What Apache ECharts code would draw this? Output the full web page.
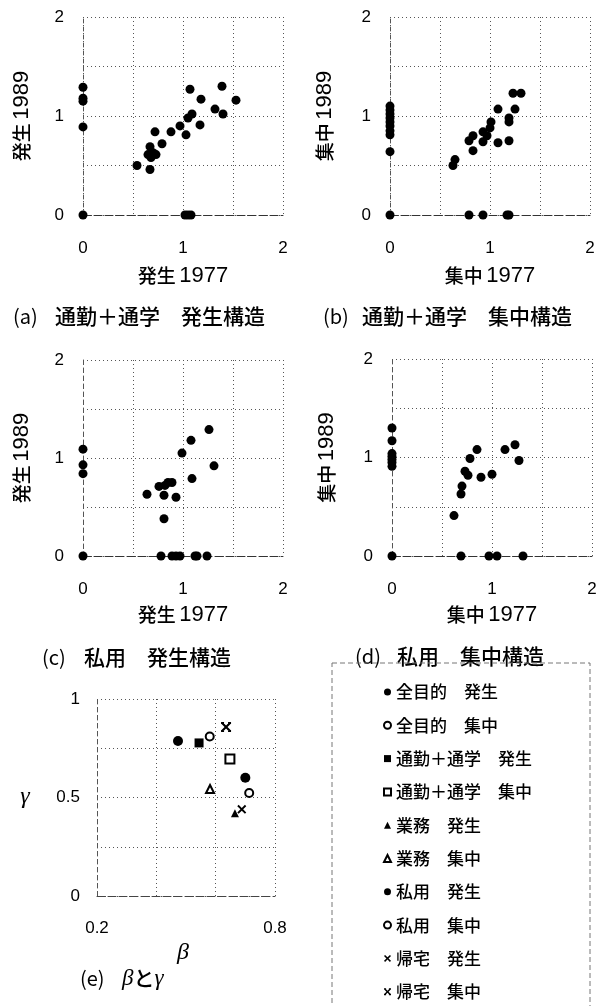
<!DOCTYPE html>
<html><head><meta charset="utf-8">
<script src="https://cdn.jsdelivr.net/npm/echarts@6/dist/echarts.min.js"></script>
<style>html,body{margin:0;padding:0;background:#fff}#c{width:604px;height:1006px}</style>
</head><body><div id="c"></div>
<script>
// ---- data ----
// (a) 通勤＋通学 発生構造 : [発生1977, 発生1989]
const panelA = [
  [0,1.29],[0,1.18],[0,1.15],[0,0.89],
  [0,0],[1.02,0],[1.05,0],[1.08,0],
  [0.54,0.50],[0.67,0.46],[0.67,0.69],[0.65,0.61],[0.70,0.63],[0.73,0.61],[0.68,0.58],
  [0.72,0.84],[0.79,0.72],[0.88,0.84],[0.97,0.90],[1.03,0.81],[1.05,0.98],[1.09,1.02],
  [1.07,1.27],[1.17,0.91],[1.18,1.17],[1.32,1.07],[1.40,1.02],[1.39,1.30],[1.53,1.16]
];
// (b) 通勤＋通学 集中構造 : [集中1977, 集中1989]
const panelB = [
  [0,1.10],[0,1.06],[0,1.02],[0,0.98],[0,0.94],[0,0.90],[0,0.85],[0,0.81],[0,0.64],
  [0,0],[0.79,0],[0.93,0],[1.17,0],[1.19,0],
  [0.63,0.50],[0.65,0.56],[0.83,0.65],[0.79,0.75],[0.83,0.80],[0.93,0.74],[0.93,0.84],
  [0.97,0.80],[1.00,0.88],[1.01,0.94],[1.08,1.07],[1.08,0.73],[1.19,0.75],[1.19,0.98],
  [1.19,0.94],[1.25,1.07],[1.23,1.23],[1.31,1.23]
];
// (c) 私用 発生構造
const panelC = [
  [0,1.09],[0,0.93],[0,0.84],
  [0,0],[0.78,0],[0.89,0],[0.93,0],[0.97,0],[1.12,0],[1.14,0],[1.24,0],
  [0.64,0.63],[0.76,0.71],[0.81,0.62],[0.85,0.75],[0.89,0.75],[0.82,0.72],[0.93,0.60],
  [0.81,0.38],[0.99,1.05],[1.09,0.79],[1.08,1.18],[1.26,1.29],[1.31,0.92]
];
// (d) 私用 集中構造
const panelD = [
  [0,1.30],[0,1.17],[0,1.04],[0,1.01],[0,0.98],[0,0.95],[0,0.91],
  [0,0],[0.69,0],[0.97,0],[1.05,0],[1.31,0],
  [0.62,0.41],[0.69,0.63],[0.70,0.71],[0.73,0.86],[0.76,0.82],[0.78,0.99],[0.85,1.08],
  [0.89,0.80],[1.00,0.83],[1.13,1.08],[1.23,1.13],[1.27,0.97]
];
// (e) β と γ
const eNames = ['全目的　発生','全目的　集中','通勤＋通学　発生','通勤＋通学　集中','業務　発生','業務　集中','私用　発生','私用　集中','帰宅　発生','帰宅　集中'];
const eBeta  = [0.70, 0.58, 0.544, 0.648, 0.665, 0.581, 0.473, 0.713, 0.688, 0.635];
const eGamma = [0.60, 0.81, 0.777, 0.695, 0.42,  0.543, 0.787, 0.523, 0.44,  0.858];
const capTags = ['(a)','(b)','(c)','(d)'];
const capTexts = ['通勤＋通学　発生構造','通勤＋通学　集中構造','私用　発生構造','私用　集中構造'];
const xNameJP = ['発生','集中','発生','集中'];
const xNameYear = '1977';
const yNameYear = '1989';

// ---- styles ----
const NUM = "'Liberation Sans Narrow','Liberation Sans',Arial,sans-serif";
const JP = "'Noto Sans CJK JP',sans-serif";
const SERIF = "'Liberation Serif','DejaVu Serif',serif";
const gridLine = {show:true, lineStyle:{color:'#555', width:1, type:[1,3]}};
const xPath = 'path://M0,1.5L1.5,0L5,3.5L8.5,0L10,1.5L6.5,5L10,8.5L8.5,10L5,6.5L1.5,10L0,8.5L3.5,5Z';
const starPath = 'path://M0,0H3V2H0Z M7,0H10V2H7Z M0,8H3V10H0Z M7,8H10V10H7Z M0,1.5L1.5,0L5,3.5L8.5,0L10,1.5L6.5,5L10,8.5L8.5,10L5,6.5L1.5,10L0,8.5L3.5,5Z';
const eSymbols = ['circle','emptyCircle','rect','emptyRect','triangle','emptyTriangle','circle','emptyCircle',xPath,starPath];
const eSizes = [10,8,9,9,8,8,10,8,9,10];

const grids = [
  {left:83, top:17, width:200, height:198},
  {left:390, top:17, width:200, height:198},
  {left:83, top:360, width:200, height:196},
  {left:392, top:359, width:200, height:197},
  {left:97, top:699, width:178, height:197}
];
const xGaps = [50,50,48,48];
const yGaps = [50,54,50,54];
const intLabel = v => (Math.abs(v - Math.round(v)) < 1e-6 ? String(Math.round(v)) : '');
const nameRich = {j:{fontFamily:JP, fontSize:19, fontWeight:500, color:'#000'}, d:{fontFamily:NUM, fontSize:22, color:'#000'}};

const xAxes = [], yAxes = [], series = [];
[panelA, panelB, panelC, panelD].forEach((pts, i) => {
  xAxes.push({gridIndex:i, type:'value', min:0, max:2, interval:0.5,
    name:'{j|' + xNameJP[i] + '} {d|' + xNameYear + '}', nameLocation:'middle', nameGap:xGaps[i],
    nameTextStyle:{rich:nameRich},
    axisLine:{show:true, onZero:false, lineStyle:{color:'#333', type:[8,3]}},
    axisTick:{show:false},
    axisLabel:{formatter:intLabel, margin:25, fontFamily:NUM, fontSize:17, color:'#000'},
    splitLine:gridLine});
  yAxes.push({gridIndex:i, type:'value', min:0, max:2, interval:0.5,
    name:'{j|' + xNameJP[i] + '} {d|' + yNameYear + '}', nameLocation:'middle', nameGap:yGaps[i],
    nameTextStyle:{rich:nameRich},
    axisLine:{show:true, onZero:false, lineStyle:{color:'#555', type:[4,4]}},
    axisTick:{show:false},
    axisLabel:{formatter:intLabel, margin:19, fontFamily:NUM, fontSize:17, color:'#000'},
    splitLine:gridLine});
  series.push({type:'scatter', xAxisIndex:i, yAxisIndex:i, data:pts,
    symbol:'circle', symbolSize:9, itemStyle:{color:'#000', opacity:1}, silent:true});
});
xAxes.push({gridIndex:4, type:'value', min:0.2, max:0.8, interval:0.2,
  axisLine:{show:true, onZero:false, lineStyle:{color:'#444', type:[8,3]}},
  axisTick:{show:false},
  axisLabel:{formatter:v => (Math.abs(v-0.2)<1e-6 || Math.abs(v-0.8)<1e-6) ? v.toFixed(1) : '',
    margin:24, fontFamily:NUM, fontSize:17, color:'#000'},
  splitLine:gridLine});
yAxes.push({gridIndex:4, type:'value', min:0, max:1, interval:0.25,
  axisLine:{show:true, onZero:false, lineStyle:{color:'#555', type:[4,4]}},
  axisTick:{show:false},
  axisLabel:{formatter:v => (v===0?'0':v===1?'1':Math.abs(v-0.5)<1e-6?'0.5':''),
    margin:17, fontFamily:NUM, fontSize:17, color:'#000'},
  splitLine:gridLine});
eNames.forEach((n, k) => {
  const empty = /^empty/.test(eSymbols[k]);
  series.push({type:'scatter', name:n, xAxisIndex:4, yAxisIndex:4,
    data:[[eBeta[k], eGamma[k]]], symbol:eSymbols[k], symbolSize:eSizes[k],
    itemStyle:{color:'#000', opacity:1, borderColor:'#000', borderWidth: empty ? 1.6 : 0}, silent:true});
});

const capRich = {p:{fontFamily:JP, fontSize:20, width:42, fill:'#000'}, q:{fontFamily:JP, fontSize:20, width:39, fill:'#000'},
  t:{fontFamily:JP, fontSize:21, fontWeight:500, fill:'#000'},
  g:{fontFamily:SERIF, fontStyle:'italic', fontSize:23, fill:'#000'}, k:{fontFamily:JP, fontSize:21, fontWeight:500, fill:'#000'}};
const capPos = [[13,306],[323,306],[42,647],[355,646]];
const capStyle = ['p','q','p','p'];
const graphic = capPos.map((p, i) => ({type:'text', left:p[0], top:p[1],
  style:{rich:capRich, text:'{' + capStyle[i] + '|' + capTags[i] + '}{t|' + capTexts[i] + '}'}}));
graphic.push(
  {type:'text', left:80, top:967, style:{rich:capRich, text:'{p|(e)}{g|β}{k|と}{g|γ}'}},
  {type:'text', x:183, y:953, style:{text:'β', font:"italic 24px " + SERIF, fill:'#000', align:'center', verticalAlign:'middle'}},
  {type:'text', x:25, y:797, style:{text:'γ', font:"italic 24px " + SERIF, fill:'#000', align:'center', verticalAlign:'middle'}},
  {type:'rect', shape:{x:332, y:663, width:258, height:360}, style:{fill:'none', stroke:'#777', lineWidth:1, lineDash:[5,3]}, silent:true}
);

const chart = echarts.init(document.getElementById('c'), null, {renderer:'canvas'});
chart.setOption({
  animation:false,
  backgroundColor:'#fff',
  grid:grids, xAxis:xAxes, yAxis:yAxes, series:series,
  legend:{data:eNames, orient:'vertical', left:383, top:682, padding:0, itemWidth:7, itemHeight:7, itemGap:13.3,
    selectedMode:false, textStyle:{fontFamily:JP, fontSize:17, fontWeight:500, color:'#000', lineHeight:20}},
  graphic:graphic
});
</script></body></html>
